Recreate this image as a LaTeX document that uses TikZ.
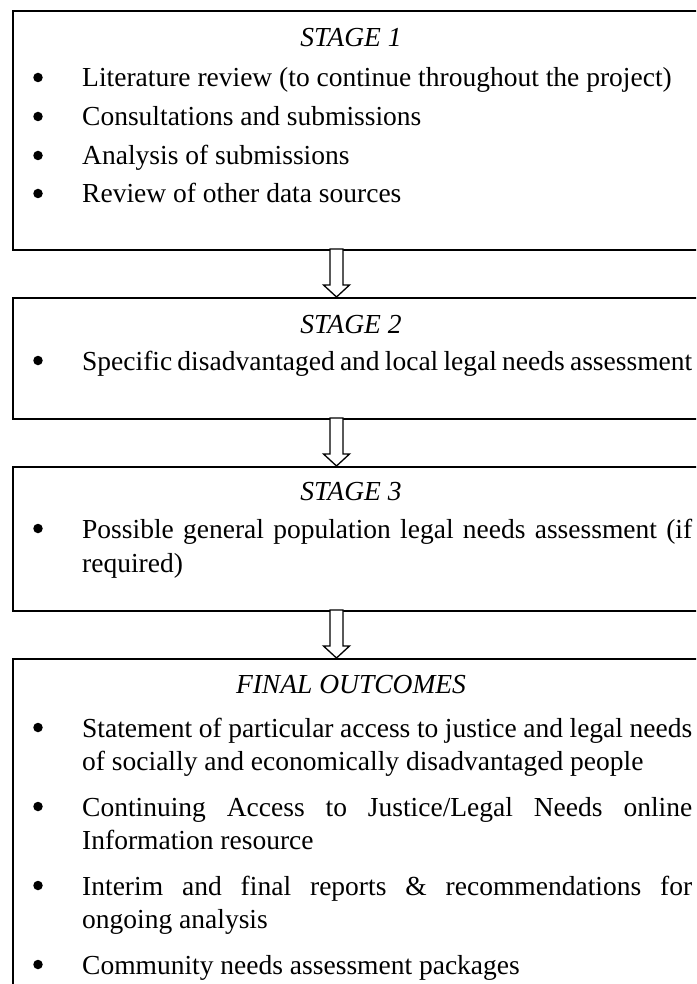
\documentclass[tikz,border=0pt]{standalone}
\usepackage{fontspec}
\setmainfont{Liberation Serif}
\usetikzlibrary{calc}
\tikzset{
  box/.style={draw, line width=1.6pt, rectangle, inner sep=0pt, anchor=north west},
  dot/.style={circle, fill=black, draw=none, minimum size=9.5pt, inner sep=0pt},
  txt/.style={anchor=base west, inner sep=0pt, font=\fontsize{27.5}{33}\selectfont},
  ttl/.style={anchor=base, inner sep=0pt, font=\fontsize{27.5}{33}\selectfont\itshape},
  harrow/.style={draw, line width=1.3pt, fill=white, line join=miter}
}
\newcommand{\jline}[1]{\makebox[610pt][s]{#1}}
\newcommand{\hollowarrow}[2]{%
  \draw[harrow] let \p1=(#1), \p2=(#2) in
    (\x1-6.5pt,\y1) -- (\x1-6.5pt,\y2+12pt) -- (\x1-13pt,\y2+12pt) -- (\x1,\y2)
    -- (\x1+13pt,\y2+12pt) -- (\x1+6.5pt,\y2+12pt) -- (\x1+6.5pt,\y1) -- cycle;}
\begin{document}
\begin{tikzpicture}[x=1pt,y=-1pt]
\useasboundingbox (0,0) rectangle (696,984);
\clip (0,0) rectangle (696,984);
% boxes
\node[box, minimum width=700pt, minimum height=239pt] (s1) at (12,10) {};
\node[box, minimum width=700pt, minimum height=121pt] (s2) at (12,297) {};
\node[box, minimum width=700pt, minimum height=144pt] (s3) at (12,466) {};
\node[box, minimum width=700pt, minimum height=360pt] (s4) at (12,658) {};
% arrows
\coordinate (a1top) at (336.5,249);
\coordinate (a1tip) at (336.5,297);
\coordinate (a2top) at (336.5,418);
\coordinate (a2tip) at (336.5,466);
\coordinate (a3top) at (336.5,610);
\coordinate (a3tip) at (336.5,658);
\hollowarrow{a1top}{a1tip}
\hollowarrow{a2top}{a2tip}
\hollowarrow{a3top}{a3tip}
% stage 1
\node[ttl] (t1) at (351,47) {STAGE 1};
\node[dot] (b11) at (38,77.5) {};
\node[txt] (l11) at (82,87) {Literature review (to continue throughout the project)};
\node[dot] (b12) at (38,116.5) {};
\node[txt] (l12) at (82,126) {Consultations and submissions};
\node[dot] (b13) at (38,155.5) {};
\node[txt] (l13) at (82,165) {Analysis of submissions};
\node[dot] (b14) at (38,193.5) {};
\node[txt] (l14) at (82,203) {Review of other data sources};
% stage 2
\node[ttl] (t2) at (351,333) {STAGE 2};
\node[dot] (b21) at (38,360.5) {};
\node[txt] (l21) at (82,370) {\jline{Specific disadvantaged and local legal needs assessment}};
% stage 3
\node[ttl] (t3) at (351,500) {STAGE 3};
\node[dot] (b31) at (38,528.5) {};
\node[txt] (l31) at (82,538) {\jline{Possible general population legal needs assessment (if}};
\node[txt] (l32) at (82,572) {required)};
% final
\node[ttl] (t4) at (351,693) {FINAL OUTCOMES};
\node[dot] (b41) at (38,727.5) {};
\node[txt] (l41) at (82,737) {\jline{Statement of particular access to justice and legal needs}};
\node[txt] (l42) at (82,770) {of socially and economically disadvantaged people};
\node[dot] (b42) at (38,806.5) {};
\node[txt] (l43) at (82,816) {\jline{Continuing Access to Justice/Legal Needs online}};
\node[txt] (l44) at (82,849) {Information resource};
\node[dot] (b43) at (38,885.5) {};
\node[txt] (l45) at (82,895) {\jline{Interim and final reports \& recommendations for}};
\node[txt] (l46) at (82,928) {ongoing analysis};
\node[dot] (b44) at (38,964.5) {};
\node[txt] (l47) at (82,974) {Community needs assessment packages};
\end{tikzpicture}
\end{document}
